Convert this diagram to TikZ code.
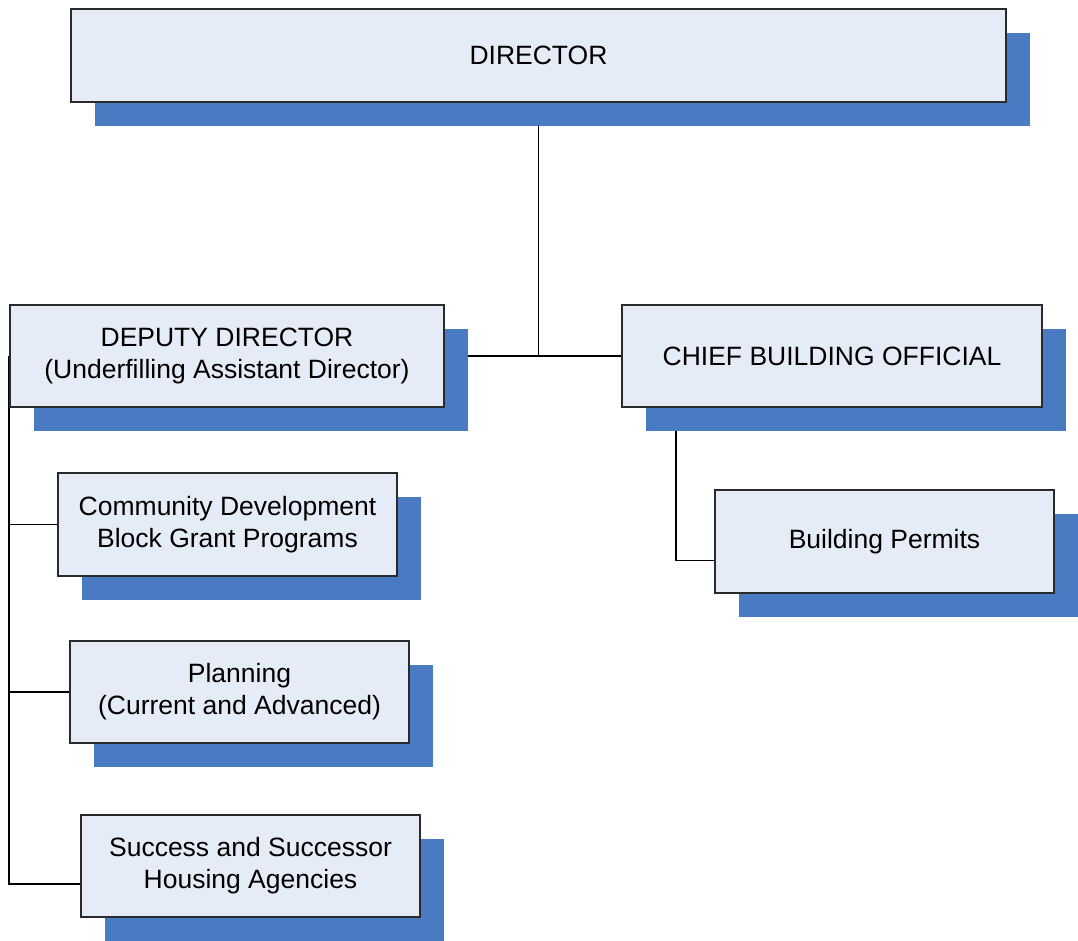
\documentclass[tikz,border=0pt]{standalone}
\usepackage{fontspec}
\setmainfont{Liberation Sans}
\usetikzlibrary{shadows,backgrounds}
\definecolor{boxfill}{HTML}{E6ECF7}
\definecolor{shadowc}{HTML}{4A7AC2}
\definecolor{boxline}{HTML}{2A2A2A}
\begin{document}
\begin{tikzpicture}[x=1pt,y=-1pt,
  orgbox/.style={draw=boxline, line width=1.2pt, fill=boxfill, inner sep=0pt,
    align=center, font=\fontsize{26.5}{32}\selectfont,
    drop shadow={shadow xshift=24pt, shadow yshift=-24pt, fill=shadowc, opacity=1}},
  conn/.style={draw=black, line width=1.9pt}]
\useasboundingbox (0,0) rectangle (1078,941);
\node[orgbox, minimum width=935pt, minimum height=93pt] (dir) at (538.5,55.5) {DIRECTOR};
\node[orgbox, minimum width=434pt, minimum height=102pt] (dep) at (227,356) {DEPUTY DIRECTOR\\(Underfilling Assistant Director)};
\node[orgbox, minimum width=420pt, minimum height=102pt] (chief) at (832,356) {CHIEF BUILDING OFFICIAL};
\node[orgbox, minimum width=339pt, minimum height=103pt] (cdbg) at (227.5,524.5) {Community Development\\Block Grant Programs};
\node[orgbox, minimum width=339pt, minimum height=102pt] (plan) at (239.5,692) {Planning\\(Current and Advanced)};
\node[orgbox, minimum width=339pt, minimum height=102pt] (succ) at (250.5,866) {Success and Successor\\Housing Agencies};
\node[orgbox, minimum width=339pt, minimum height=103pt] (bp) at (884.5,541.5) {Building Permits};
\coordinate (chiefdrop) at ([xshift=55pt]chief.south west);
\coordinate (bpin) at ([yshift=-19pt]bp.west);
\coordinate (succin) at ([yshift=-18pt]succ.west);
\begin{pgfonlayer}{background}
\draw[conn] (dir.south) -- (dir.south |- dep.east);
\draw[conn] (dep.east) -- (chief.west);
\draw[conn] (dep.west) |- (cdbg.west);
\draw[conn] (dep.west) |- (plan.west);
\draw[conn] (dep.west) |- (succin);
\draw[conn] (chiefdrop) |- (bpin);
\end{pgfonlayer}
\end{tikzpicture}
\end{document}
